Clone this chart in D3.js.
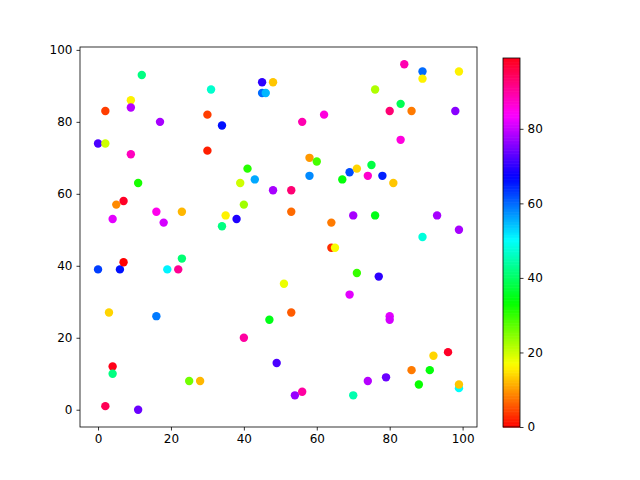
<!DOCTYPE html>
<html><head><meta charset="utf-8">
<script src="https://cdn.jsdelivr.net/npm/d3@7"></script>
<style>body{margin:0;background:#fff}svg{display:block}text{font-family:"DejaVu Sans",sans-serif;font-size:12px;fill:#000}</style>
</head><body>
<svg id="c" width="640" height="480"></svg>
<script>
const xs = [12,31,45,48,45,46,9,9,2,17,30,34,0,2,9,30,41,43,39,11,48,7,5,16,23,4,18,35,38,34,40,
84,89,89,99,76,83,80,86,98,56,62,83,58,60,58,69,71,75,67,74,78,81,
53,53,64,70,76,93,99,
0,6,7,19,22,23,3,16,47,40,49,4,4,25,28,2,11,
89,64,65,51,71,77,69,53,
80,80,96,92,86,91,88,79,74,54,56,70,99,99];
const ys = [93,89,91,91,88,88,86,84,83,80,82,79,74,74,71,72,67,64,63,63,61,58,57,55,55,53,52,54,53,51,57,
96,94,92,94,89,85,83,83,83,80,82,75,70,69,65,66,67,68,64,65,65,63,
61,55,52,54,54,54,50,
39,39,41,39,39,42,27,26,25,20,13,12,10,8,8,1,0,
48,45,45,35,38,37,32,27,
26,25,16,15,11,11,7,9,8,4,5,4,6,7];
const cs = [42,47,70,13,60,55,16,79,4,78,4,66,72,20,88,2,31,56,20,32,78,98,9,85,12,82,81,16,69,42,23,
89,60,16,16,22,39,93,8,76,89,86,86,10,29,58,62,14,38,34,87,65,13,
93,7,8,78,35,78,78,
63,66,0,51,91,41,14,59,35,90,72,99,42,26,12,95,74,
48,3,17,18,30,70,82,6,
82,81,98,14,8,34,33,74,79,77,90,45,50,13];
const xTicks = [0,20,40,60,80,100];
const yTicks = [0,20,40,60,80,100];
const cTicks = [0,20,40,60,80];

// matplotlib 'hsv' colormap segment data
const segR = [[0,1],[0.158730,1],[0.174603,0.96875],[0.333333,0.03125],[0.349206,0],[0.666667,0],[0.682540,0.03125],[0.841270,0.96875],[0.857143,1],[1,1]];
const segG = [[0,0],[0.158730,0.9375],[0.174603,1],[0.507937,1],[0.666667,0.0625],[0.682540,0],[1,0]];
const segB = [[0,0],[0.333333,0],[0.349206,0.0625],[0.507937,1],[0.841270,1],[0.857143,0.9375],[1,0.09375]];
function seg(s,t){for(let i=1;i<s.length;i++){if(t<=s[i][0]){const a=s[i-1],b=s[i];return a[1]+(b[1]-a[1])*(t-a[0])/(b[0]-a[0]);}}return s[s.length-1][1];}
function hsvMap(t){t=Math.max(0,Math.min(1,t));return d3.rgb(seg(segR,t)*255,seg(segG,t)*255,seg(segB,t)*255).formatHex();}

const svg = d3.select("#c");
const L=80,R=477,T=47,B=427;
const xe=d3.extent(xs), ye=d3.extent(ys);
const xp=(xe[1]-xe[0])*0.05, yp=(ye[1]-ye[0])*0.05;
const x=d3.scaleLinear().domain([xe[0]-xp,xe[1]+xp]).range([L,R]);
const y=d3.scaleLinear().domain([ye[0]-yp,ye[1]+yp]).range([B,T]);
const ce=d3.extent(cs);
const cn=d3.scaleLinear().domain(ce).range([0,1]);

const pts = xs.map((v,i)=>({x:v,y:ys[i],c:cs[i]}));
svg.append("g").selectAll("circle").data(pts).join("circle")
  .attr("cx",d=>x(d.x)).attr("cy",d=>y(d.y)).attr("r",4.2)
  .attr("fill",d=>hsvMap(cn(d.c)));

const xa=svg.append("g").attr("transform",`translate(0,${B})`).call(d3.axisBottom(x).tickValues(xTicks).tickSize(3.5).tickPadding(4));
const ya=svg.append("g").attr("transform",`translate(${L},0)`).call(d3.axisLeft(y).tickValues(yTicks).tickSize(3.5).tickPadding(4));
[xa,ya].forEach(a=>{a.select(".domain").remove();a.selectAll("text").style("font-family","DejaVu Sans").style("font-size","12px");a.selectAll("line").attr("stroke","#000").attr("stroke-width",0.8);});
svg.append("rect").attr("x",L).attr("y",T).attr("width",R-L).attr("height",B-T).attr("fill","none").attr("stroke","#000").attr("stroke-width",0.8);

// colorbar
const CL=503,CR=520,CT=58,CB=427;
const cy=d3.scaleLinear().domain(ce).range([CB,CT]);
const N=256;
const cg=svg.append("g");
for(let i=0;i<N;i++){
  const v0=ce[0]+(ce[1]-ce[0])*i/N, v1=ce[0]+(ce[1]-ce[0])*(i+1)/N;
  cg.append("rect").attr("x",CL).attr("width",CR-CL).attr("y",cy(v1)).attr("height",cy(v0)-cy(v1)+0.6).attr("fill",hsvMap(cn((v0+v1)/2)));
}
svg.append("rect").attr("x",CL).attr("y",CT).attr("width",CR-CL).attr("height",CB-CT).attr("fill","none").attr("stroke","#000").attr("stroke-width",0.8);
const ca=svg.append("g").attr("transform",`translate(${CR},0)`).call(d3.axisRight(cy).tickValues(cTicks).tickSize(3.5).tickPadding(4));
ca.select(".domain").remove();
ca.selectAll("text").style("font-family","DejaVu Sans").style("font-size","12px");
ca.selectAll("line").attr("stroke","#000").attr("stroke-width",0.8);
</script>
</body></html>
